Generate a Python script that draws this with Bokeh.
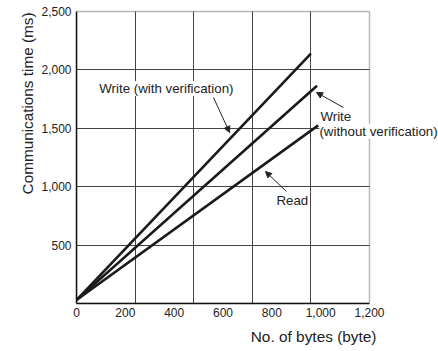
from bokeh.plotting import figure
from bokeh.models import (Range1d, FixedTicker, Label, Arrow, NormalHead, Title,
                          BoxAnnotation)
from bokeh.embed import file_html
from bokeh.resources import INLINE

# ---- data ----
write_verify_x = [0, 960]
write_verify_y = [30, 2140]
write_x = [0, 985]
write_y = [30, 1865]
read_x = [0, 990]
read_y = [30, 1525]

x_ticks = [0, 200, 400, 600, 800, 1000, 1200]
x_tick_labels = ["0", "200", "400", "600", "800", "1,000", "1,200"]
y_ticks = [500, 1000, 1500, 2000, 2500]
y_tick_labels = ["500", "1,000", "1,500", "2,000", "2,500"]
x_grid = [240, 480, 720, 960]
y_grid = [500, 1000, 1500, 2000]
X_MAX, Y_MAX = 1200, 2500

FONT = "Liberation Sans"
TXT = "#222222"
ANN = "13.3px"

W, H = 438, 351
LEFT, BOTTOM = 76, 48
# frame extends to the right / top edge so the callout text is not clipped
px_x = 293 / X_MAX
px_y = 292 / Y_MAX
x_end = (W - LEFT) / px_x
y_end = (H - BOTTOM) / px_y

p = figure(width=W, height=H, output_backend="svg", toolbar_location=None,
           x_range=Range1d(0, x_end), y_range=Range1d(0, y_end),
           min_border_left=LEFT, min_border_right=0, min_border_top=0,
           min_border_bottom=BOTTOM)
p.background_fill_color = "white"
p.border_fill_color = "white"
p.outline_line_color = None

for ax in (p.xaxis[0], p.yaxis[0]):
    ax.axis_line_color = "#111111"
    ax.axis_line_width = 1.5
    ax.major_tick_line_color = None
    ax.minor_tick_line_color = None
    ax.major_tick_out = 0
    ax.major_tick_in = 0
    ax.major_label_text_font = FONT
    ax.major_label_text_font_size = "12px"
    ax.major_label_text_color = TXT

p.xaxis.bounds = (0, X_MAX)
p.yaxis.bounds = (0, Y_MAX)
p.xaxis.ticker = FixedTicker(ticks=x_ticks)
p.xaxis.major_label_overrides = {t: l for t, l in zip(x_ticks, x_tick_labels)}
p.xaxis.major_label_standoff = 4
p.yaxis.ticker = FixedTicker(ticks=y_ticks)
p.yaxis.major_label_overrides = {t: l for t, l in zip(y_ticks, y_tick_labels)}
p.yaxis.major_label_standoff = 5

p.xgrid.ticker = FixedTicker(ticks=x_grid)
p.ygrid.ticker = FixedTicker(ticks=y_grid)
p.xgrid.cross_bounds = (0, Y_MAX)
p.ygrid.cross_bounds = (0, X_MAX)
for g in (p.xgrid[0], p.ygrid[0]):
    g.grid_line_color = "#444444"
    g.grid_line_width = 1

p.add_layout(BoxAnnotation(left=0, right=X_MAX, bottom=0, top=Y_MAX,
                           fill_color=None, line_color="#111111", line_width=1.5,
                           level="underlay"))

for xs, ys in ((write_verify_x, write_verify_y), (write_x, write_y), (read_x, read_y)):
    p.line(xs, ys, line_color="#1a1a1a", line_width=2.6)

def lab(x, y, text, align="center"):
    p.add_layout(Label(x=x, y=y, text=text, text_font=FONT, text_font_size=ANN,
                       text_color=TXT, text_align=align, text_baseline="middle",
                       background_fill_color="white"))

lab(368, 1841, "Write (with verification)")
lab(999, 1601, "Write", align="left")
lab(995, 1475, "(without verification)", align="left")
lab(884, 882, "Read")

arrows = [((561, 1764), (627, 1464)), ((1093, 1678), (983, 1807)), ((860, 959), (774, 1130))]
for (x0, y0), (x1, y1) in arrows:
    p.add_layout(Arrow(x_start=x0, y_start=y0, x_end=x1, y_end=y1,
                       line_color="#222222", line_width=1,
                       end=NormalHead(size=6, fill_color="#222222", line_color="#222222")))

p.add_layout(Title(text="No. of bytes (byte)", align="right", offset=62, standoff=12,
                   text_font=FONT, text_font_size="15.4px", text_font_style="normal",
                   text_color=TXT), "below")
p.add_layout(Title(text="Communications time (ms)", align="right", offset=12, standoff=5,
                   text_font=FONT, text_font_size="15.3px", text_font_style="normal",
                   text_color=TXT), "left")

open("out.html", "w").write(file_html(p, INLINE))
